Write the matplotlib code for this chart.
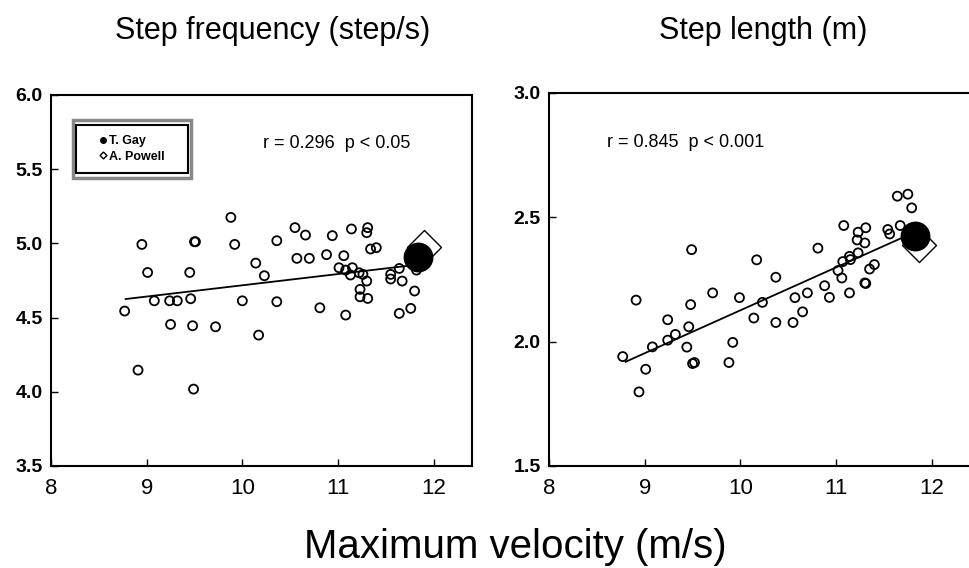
import matplotlib
matplotlib.use("Agg")
import matplotlib.pyplot as plt
from matplotlib.lines import Line2D
from matplotlib.patches import Rectangle

plt.rcParams['font.family'] = ['Liberation Sans', 'DejaVu Sans']

# Step frequency (step/s) vs maximum velocity (m/s)
freq_vel = [9.88, 8.95, 9.50, 9.51, 9.92, 10.36, 10.55, 10.66, 10.94, 11.14,
            11.31, 11.30, 11.34, 11.40, 10.14, 10.57, 10.70, 10.88, 11.06, 9.01,
            9.45, 10.23, 11.01, 11.08, 11.15, 11.13, 11.22, 11.26, 11.30, 11.55,
            11.55, 11.64, 11.67, 11.82, 11.23, 11.23, 11.31, 11.80, 8.77, 9.08,
            9.24, 9.32, 9.46, 10.00, 10.36, 10.81, 11.08, 11.64, 11.76, 9.25,
            9.48, 9.72, 10.17, 8.91, 9.49]
freq_val = [5.175, 4.993, 5.011, 5.011, 4.993, 5.018, 5.106, 5.056, 5.052, 5.097,
            5.106, 5.072, 4.962, 4.971, 4.867, 4.899, 4.899, 4.924, 4.917, 4.804,
            4.804, 4.782, 4.836, 4.820, 4.836, 4.787, 4.802, 4.791, 4.746, 4.791,
            4.760, 4.831, 4.746, 4.820, 4.690, 4.640, 4.629, 4.679, 4.544, 4.613,
            4.613, 4.613, 4.627, 4.613, 4.607, 4.566, 4.517, 4.528, 4.562, 4.454,
            4.445, 4.438, 4.382, 4.146, 4.018]
freq_fit_x = [8.78, 11.72]
freq_fit_y = [4.625, 4.848]
freq_gay = (11.84, 4.91)
freq_powell = (11.90, 4.975)

# Step length (m) vs maximum velocity (m/s)
len_vel = [11.64, 11.75, 11.79, 11.08, 11.31, 11.23, 11.22, 11.30, 11.54, 11.56,
           11.67, 10.81, 9.49, 10.17, 11.14, 11.23, 11.07, 11.15, 11.02, 11.06,
           11.35, 11.40, 10.37, 11.30, 11.31, 10.88, 11.14, 9.71, 10.70, 10.57,
           9.99, 10.93, 10.23, 8.91, 9.48, 10.65, 10.14, 10.37, 10.55, 9.24,
           9.46, 9.32, 9.24, 9.92, 9.08, 9.44, 8.77, 9.50, 9.52, 9.88,
           9.01, 8.94]
len_val = [2.585, 2.593, 2.538, 2.467, 2.458, 2.440, 2.409, 2.397, 2.451, 2.433,
           2.467, 2.376, 2.370, 2.329, 2.343, 2.357, 2.322, 2.330, 2.286, 2.256,
           2.292, 2.310, 2.259, 2.236, 2.234, 2.225, 2.196, 2.196, 2.196, 2.177,
           2.177, 2.178, 2.158, 2.167, 2.149, 2.120, 2.095, 2.077, 2.077, 2.088,
           2.060, 2.029, 2.006, 1.997, 1.979, 1.978, 1.940, 1.912, 1.916, 1.916,
           1.889, 1.798]
len_fit_x = [8.80, 11.68]
len_fit_y = [1.919, 2.416]
len_gay = (11.82, 2.424)
len_powell = (11.87, 2.39)

x_ticks = [8, 9, 10, 11, 12]
freq_ticks = [3.5, 4.0, 4.5, 5.0, 5.5, 6.0]
len_ticks = [1.5, 2.0, 2.5, 3.0]

fig = plt.figure(figsize=(9.69, 5.68), dpi=100)
ax1 = fig.add_axes([0.0526, 0.1796, 0.4345, 0.6532])
ax2 = fig.add_axes([0.5666, 0.1796, 0.4345, 0.6567])

narrow = ['Liberation Sans Narrow', 'Liberation Sans']


def draw_panel(ax, vel, val, fit_x, fit_y, gay, powell, yticks):
    ax.plot(fit_x, fit_y, color='black', lw=1.3, zorder=2)
    ax.scatter(vel, val, s=42, facecolors='none', edgecolors='black',
               linewidths=1.3, zorder=3)
    ax.scatter([powell[0]], [powell[1]], marker='D', s=300, facecolors='white',
               edgecolors='black', linewidths=1.0, zorder=4)
    ax.scatter([gay[0]], [gay[1]], marker='o', s=420, color='black', zorder=5)
    ax.set_xlim(8, 12.4)
    ax.set_ylim(yticks[0], yticks[-1])
    ax.set_xticks(x_ticks)
    ax.set_xticklabels([str(t) for t in x_ticks], family=narrow, fontsize=16)
    ax.set_yticks(yticks)
    ax.set_yticklabels(['%.1f' % t for t in yticks], fontsize=14, fontweight='bold')
    ax.tick_params(direction='in', length=5, width=1)
    ax.tick_params(axis='x', pad=9)
    ax.tick_params(axis='y', pad=6)
    for sp in ax.spines.values():
        sp.set_linewidth(1.5)


draw_panel(ax1, freq_vel, freq_val, freq_fit_x, freq_fit_y, freq_gay, freq_powell, freq_ticks)
ax1.text(0.504, 0.868, 'r = 0.296  p < 0.05', transform=ax1.transAxes,
         fontsize=13, va='center', ha='left')

# legend with a double border
ax1.add_patch(Rectangle((0.052, 0.776), 0.281, 0.157, transform=ax1.transAxes,
                        fill=False, edgecolor='#888888', lw=2.5, zorder=6))
ax1.add_patch(Rectangle((0.060, 0.790), 0.265, 0.129, transform=ax1.transAxes,
                        fill=False, edgecolor='black', lw=1.5, zorder=6))
handles = [Line2D([], [], marker='o', ls='none', color='black', ms=4),
           Line2D([], [], marker='D', ls='none', mfc='white', mec='black', ms=3.5)]
ax1.legend(handles, ['T. Gay', 'A. Powell'], loc='center',
           bbox_to_anchor=(0.19, 0.855), frameon=False,
           prop={'size': 9, 'weight': 'bold'},
           handletextpad=0.1, handlelength=0.8, labelspacing=0.3)

draw_panel(ax2, len_vel, len_val, len_fit_x, len_fit_y, len_gay, len_powell, len_ticks)
ax2.text(0.138, 0.868, 'r = 0.845  p < 0.001', transform=ax2.transAxes,
         fontsize=13, va='center', ha='left')

fig.text(0.2817, 0.931, 'Step frequency (step/s)', fontsize=22, ha='center', va='baseline')
fig.text(0.7874, 0.931, 'Step length (m)', fontsize=22, ha='center', va='baseline')
fig.text(0.5315, 0.0176, 'Maximum velocity (m/s)', fontsize=29, ha='center', va='baseline')

fig.savefig('out.png', dpi=100)
